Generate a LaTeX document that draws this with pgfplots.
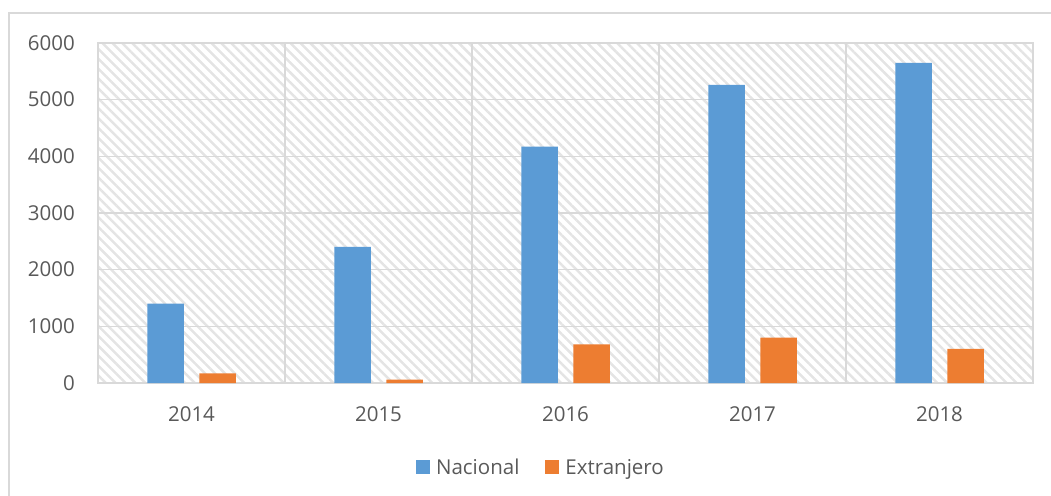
\documentclass[border=0pt]{standalone}
\usepackage{fontspec}
\setmainfont{Open Sans}
\usepackage{pgfplots}
\pgfplotsset{compat=1.18}
\usetikzlibrary{patterns.meta}
\definecolor{nblue}{HTML}{5B9BD5}
\definecolor{eorange}{HTML}{ED7D31}
\definecolor{txt}{HTML}{595959}
\definecolor{gridc}{HTML}{D9D9D9}
\definecolor{hatch}{HTML}{E4E4E4}
\newcommand{\chartfont}{\fontsize{20.5}{25}\selectfont}
\begin{document}
\begin{tikzpicture}[x=1pt,y=1pt]
\useasboundingbox (0,0) rectangle (1051,495);
\draw[gridc, line width=1.5pt] (9,-20) -- (9,482) -- (1080,482);
\begin{axis}[
  at={(98pt,112pt)}, anchor=south west,
  scale only axis, width=935pt, height=340pt,
  xmin=-0.5, xmax=4.5, ymin=0, ymax=6000,
  xtick={0,1,2,3,4}, xticklabels={2014,2015,2016,2017,2018},
  minor xtick={0.5,1.5,2.5,3.5},
  ytick={0,1000,...,6000},
  scaled y ticks=false,
  ymajorgrids, xminorgrids,
  grid style={gridc, line width=1.5pt},
  minor grid style={gridc, line width=1.5pt},
  axis line style={gridc, line width=1.5pt},
  major tick length=0pt, minor tick length=0pt,
  tick style={draw=none},
  /pgf/number format/assume math mode=true,
  yticklabel style={/pgf/number format/1000 sep={}, inner sep=0pt, xshift=-23pt, font=\chartfont, text=txt},
  xticklabel style={inner sep=0pt, yshift=-23pt, font=\chartfont, text=txt},
  axis background/.style={pattern={Lines[angle=-45,distance=7pt,line width=2.5pt]}, pattern color=hatch},
  ybar=15.5pt, bar width=36.5pt,
  legend columns=2,
  legend style={at={(0.4727,-0.2485)}, anchor=center, draw=none, fill=none,
    font=\chartfont, text=txt, inner sep=0pt, nodes={inner sep=0pt},
    cells={anchor=west},
    /tikz/every odd column/.append style={column sep=6pt},
    /tikz/every even column/.append style={column sep=26pt}},
  legend image code/.code={\fill[#1] (0pt,-7pt) rectangle (14pt,7pt);},
]
\addplot[fill=nblue, draw=none] coordinates {(0,1400) (1,2400) (2,4170) (3,5260) (4,5650)};
\addlegendentry{Nacional}
\addplot[fill=eorange, draw=none] coordinates {(0,170) (1,60) (2,680) (3,800) (4,600)};
\addlegendentry{Extranjero}
\end{axis}
\end{tikzpicture}
\end{document}
